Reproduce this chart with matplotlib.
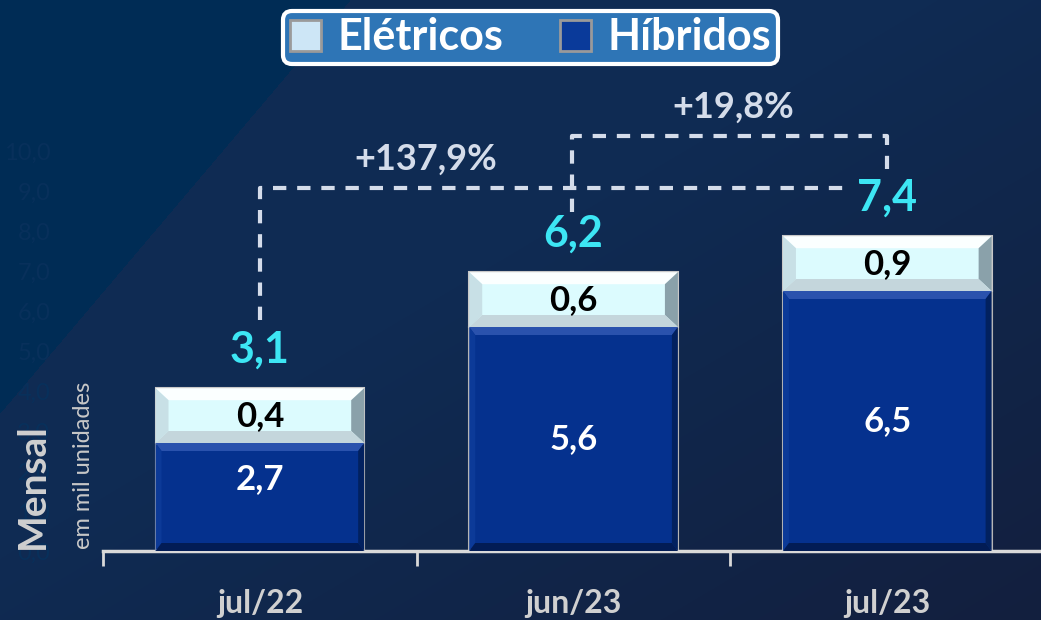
import numpy as np
import matplotlib
matplotlib.use("Agg")
import matplotlib.pyplot as plt
from matplotlib.patches import Polygon, Patch

plt.rcParams['font.family'] = ['Lato', 'DejaVu Sans']

# dados
meses = ['jul/22', 'jun/23', 'jul/23']
hibridos = [2.7, 5.6, 6.5]
eletricos = [0.4, 0.6, 0.9]
# altura com que o segmento de elétricos aparece desenhado no gráfico original
eletricos_barra = [1.37, 1.37, 1.37]
totais = ['3,1', '6,2', '7,4']
variacoes = ['+137,9%', '+19,8%']
yticks = [0, 1, 2, 3, 4, 5, 6, 7, 8, 9, 10]

W, H = 1041, 620
fig = plt.figure(figsize=(W / 100, H / 100), dpi=100)

# fundo com degradê azul escuro
bg = fig.add_axes([0, 0, 1, 1])
yy, xx = np.mgrid[0:H, 0:W]
base = np.array([0x0f, 0x2b, 0x53]) / 255
canto = np.array([0x13, 0x1f, 0x3e]) / 255
topo = np.array([0x00, 0x2c, 0x55]) / 255
t = np.clip((xx / W + yy / H - 0.9) / 1.1, 0, 1)[..., None]
img = base * (1 - t) + canto * t
mask = (xx / 350 + yy / 413) < 1
img[mask] = topo
bg.imshow(img, extent=[0, 1, 0, 1], aspect='auto')
bg.axis('off')

ax = fig.add_axes([103 / W, (H - 551) / H, (W - 103) / W, 551 / H])
ax.patch.set_alpha(0)
ax.set_xlim(-0.49, 2.49)
ax.set_ylim(0, 551 / 40)
x = np.arange(len(meses))
largura = 0.665

px_x = (2.49 + 0.49) / (W - 103)
px_y = (551 / 40) / 551


def bevel(xc, y0, h, cores, bx, by):
    x0, x1 = xc - largura / 2, xc + largura / 2
    y1 = y0 + h
    ix0, ix1 = x0 + bx * px_x, x1 - bx * px_x
    iy0, iy1 = y0 + by * px_y, y1 - by * px_y
    c_top, c_left, c_right, c_bot = cores
    ax.add_patch(Polygon([(x0, y1), (x1, y1), (ix1, iy1), (ix0, iy1)], closed=True, fc=c_top, ec='none', zorder=3))
    ax.add_patch(Polygon([(x0, y0), (x0, y1), (ix0, iy1), (ix0, iy0)], closed=True, fc=c_left, ec='none', zorder=3))
    ax.add_patch(Polygon([(x1, y0), (x1, y1), (ix1, iy1), (ix1, iy0)], closed=True, fc=c_right, ec='none', zorder=3))
    ax.add_patch(Polygon([(x0, y0), (x1, y0), (ix1, iy0), (ix0, iy0)], closed=True, fc=c_bot, ec='none', zorder=3))


ax.bar(x, hibridos, largura, color='#05318e', edgecolor='#b5b5b5', linewidth=1.5, zorder=2)
ax.bar(x, eletricos_barra, largura, bottom=hibridos, color='#dcfbfe', edgecolor='#c8c8c8', linewidth=1.5, zorder=2)

for i in range(len(meses)):
    bevel(x[i], 0, hibridos[i], ('#2a52ad', '#0c3a98', '#02215f', '#021c55'), 6, 8)
    bevel(x[i], hibridos[i], eletricos_barra[i], ('#fbffff', '#c8e0e6', '#8aa1aa', '#c4d6dc'), 13, 12)

# rótulos
for i in range(len(meses)):
    ax.text(x[i], max(hibridos[i] / 2, 1.8), f'{hibridos[i]:.1f}'.replace('.', ','),
            ha='center', va='center', color='white', fontsize=25, fontweight='bold', zorder=5)
    ax.text(x[i], hibridos[i] + eletricos_barra[i] / 2, f'{eletricos[i]:.1f}'.replace('.', ','),
            ha='center', va='center', color='black', fontsize=25, fontweight='bold', zorder=5)
    topo_barra = hibridos[i] + eletricos_barra[i]
    ax.annotate(totais[i], (x[i], topo_barra), xytext=(0, 28), textcoords='offset points',
                ha='center', va='center', color='#3de6f4', fontsize=31, fontweight='bold', zorder=5)

# linhas tracejadas de variação
topos = [h + e for h, e in zip(hibridos, eletricos_barra)]
nivel1, nivel2 = 9.075, 10.375
kw = dict(color='#d4dcea', lw=3, ls=(0, (3.2, 2.6)), zorder=4, solid_capstyle='butt')
ax.plot([x[0], x[0], x[2] - 0.11], [topos[0] + 1.7, nivel1, nivel1], **kw)
ax.plot([x[1] - 0.006, x[1] - 0.006, x[2], x[2]], [topos[1] + 1.5, nivel2, nivel2, topos[2] + 1.67], **kw)
ax.text(0.53, nivel1 + 0.72, variacoes[0], ha='center', va='center', color='#d4dcea',
        fontsize=26, fontweight='bold')
ax.text(1.51, nivel2 + 0.72, variacoes[1], ha='center', va='center', color='#d4dcea',
        fontsize=26, fontweight='bold')

# eixos
for s in ['top', 'right', 'left']:
    ax.spines[s].set_visible(False)
ax.spines['bottom'].set_color('#d9d9d9')
ax.spines['bottom'].set_linewidth(2.5)
ax.set_xticks(x)
ax.set_xticklabels(meses)
ax.tick_params(axis='x', length=0, pad=27, labelsize=23, labelcolor='#d0d0d0')
for lab in ax.get_xticklabels():
    lab.set_fontweight('bold')
ax.set_xticks([-0.5, 0.5, 1.5], minor=True)
ax.tick_params(axis='x', which='minor', length=11, width=2, color='#d9d9d9', direction='out')
ax.set_yticks(yticks)
ax.set_yticklabels([f'{v:.1f}'.replace('.', ',') for v in yticks])
ax.tick_params(axis='y', length=0, pad=38, labelsize=17, labelcolor='#08305b')

fig.text(32 / W, (H - 549) / H, 'Mensal', rotation=90, ha='center', va='bottom',
         color='#d0d0d0', fontsize=28, fontweight='bold')
fig.text(84 / W, (H - 549) / H, 'em mil unidades', rotation=90, ha='center', va='bottom',
         color='#c8c8c8', fontsize=17)

handles = [Patch(facecolor='#cde6f6', edgecolor='#9a9a9a', linewidth=2, label='Elétricos'),
           Patch(facecolor='#0a3a9a', edgecolor='#9a9a9a', linewidth=2, label='Híbridos')]
leg = fig.legend(handles=handles, loc='upper center', bbox_to_anchor=(530.5 / W, 1 - 11 / H),
                 ncol=2, frameon=True, fancybox=True, facecolor='#2e75b6', edgecolor='white',
                 framealpha=1, handlelength=0.72, handleheight=0.72, handletextpad=0.4,
                 columnspacing=1.3, borderpad=0.15, borderaxespad=0,
                 prop={'size': 31, 'weight': 'bold'})
leg.get_frame().set_linewidth(3)
for txt in leg.get_texts():
    txt.set_color('white')

fig.savefig('out.png', dpi=100)
